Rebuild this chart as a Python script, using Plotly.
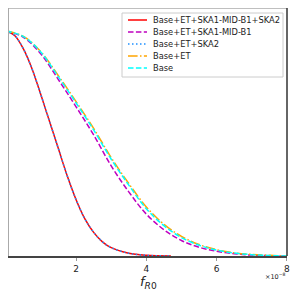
import plotly.graph_objects as go

# x in units of 1e-8
x_vals = [0, 0.25, 0.5, 0.75, 1.0, 1.25, 1.5, 1.75, 2.0, 2.25, 2.5, 2.75, 3.0, 3.5, 4.0, 4.7]
y_full = [1.0, 0.98, 0.92, 0.83, 0.715, 0.595, 0.475, 0.355, 0.25, 0.165, 0.105, 0.063, 0.037, 0.012, 0.003, 0.0]

x_broad = [0, 0.5, 1.0, 1.5, 2.0, 2.5, 3.0, 3.5, 4.0, 4.5, 5.0, 5.5, 6.0, 6.5, 7.0, 7.5, 8.0]
y_ska1 = [1.0, 0.972, 0.897, 0.783, 0.663, 0.538, 0.40, 0.285, 0.186, 0.117, 0.069, 0.039, 0.021, 0.010, 0.004, 0.001, 0.0]
y_ska2 = y_full
y_et = [1.0, 0.976, 0.907, 0.80, 0.686, 0.567, 0.437, 0.322, 0.218, 0.141, 0.087, 0.051, 0.028, 0.014, 0.007, 0.003, 0.0]
y_base = [1.0, 0.975, 0.905, 0.795, 0.68, 0.56, 0.43, 0.315, 0.21, 0.135, 0.082, 0.048, 0.026, 0.013, 0.006, 0.002, 0.0]

tick_vals = [2, 4, 6, 8]
tick_text = ["2", "4", "6", "8"]

names = ["Base+ET+SKA1-MID-B1+SKA2", "Base+ET+SKA1-MID-B1", "Base+ET+SKA2", "Base+ET", "Base"]
xs = [x_vals, x_broad, x_vals, x_broad, x_broad]
ys = [y_full, y_ska1, y_ska2, y_et, y_base]
colors = ["#ff0000", "#bf00bf", "#1e90ff", "#ffa500", "#00ffff"]
dashes = ["solid", "5.5px,2.4px", "1.5px,2.5px", "9.6px,2.4px,1.5px,2.4px", "5.5px,2.4px"]

# the page body adds an 8px offset; figure sized to fit the 300px window exactly
OFF = 8
W, H = 292, 292
PX0, PX1, PY0, PY1 = 9, 287, 8, 256   # page-coordinate plot area
L, T = PX0 - OFF, PY0 - OFF
R, B = W - (PX1 - OFF), H - (PY1 - OFF)


def px(xp):
    return (xp - PX0) / (PX1 - PX0)


def py(yp):
    return (PY1 - yp) / (PY1 - PY0)


fig = go.Figure()
for n, x, y, c, d in zip(names, xs, ys, colors, dashes):
    fig.add_trace(go.Scatter(x=x, y=y, mode="lines", name=n, line_shape="spline",
                             line=dict(color=c, dash=d, width=1.5), showlegend=False))

fig.update_layout(
    width=W, height=H,
    margin=dict(l=L, r=R, t=T, b=B, autoexpand=False),
    paper_bgcolor="white", plot_bgcolor="white",
    font=dict(family="DejaVu Sans", color="#222"),
    xaxis=dict(range=[0.09, 8.005], tickvals=tick_vals, ticktext=tick_text, automargin=False,
               showgrid=False, zeroline=False, showline=True, linecolor="#444", linewidth=1.5,
               ticks="outside", ticklen=3, tickcolor="#999", tickfont=dict(size=9)),
    yaxis=dict(range=[0, 1.102], showticklabels=False, showgrid=False, zeroline=False,
               automargin=False, showline=True, linecolor="#aaa", linewidth=2, ticks=""),
    showlegend=False,
)
fig.add_shape(type="line", xref="paper", yref="paper", x0=0, x1=1, y0=1, y1=1,
              line=dict(color="#aaa", width=1.5))
fig.add_shape(type="line", xref="paper", yref="paper", x0=1, x1=1, y0=0, y1=1,
              line=dict(color="#333", width=1.5))

# legend box
fig.add_shape(type="rect", xref="paper", yref="paper", x0=px(122), x1=px(283), y0=py(77), y1=py(13),
              line=dict(color="#cccccc", width=1), fillcolor="white", layer="above")
for i, (n, c, d) in enumerate(zip(names, colors, dashes)):
    yy = 20 + 12 * i
    fig.add_shape(type="line", xref="paper", yref="paper", x0=px(128), x1=px(147),
                  y0=py(yy), y1=py(yy), line=dict(color=c, dash=d, width=1.5), layer="above")
    fig.add_annotation(text=n, xref="paper", yref="paper", x=px(151), y=py(yy),
                       xanchor="left", yanchor="middle", showarrow=False,
                       font=dict(size=8.3, color="#222"))

fig.add_annotation(text="<i>f</i><sub><i>R</i>0</sub>", xref="paper", yref="paper",
                   x=px(148), y=py(282), xanchor="center", yanchor="middle", showarrow=False,
                   font=dict(size=13))
fig.add_annotation(text="×10<sup>−8</sup>", xref="paper", yref="paper", x=px(288), y=py(276),
                   xanchor="right", yanchor="middle", showarrow=False, font=dict(size=6.5))
fig.write_html("out.html")
